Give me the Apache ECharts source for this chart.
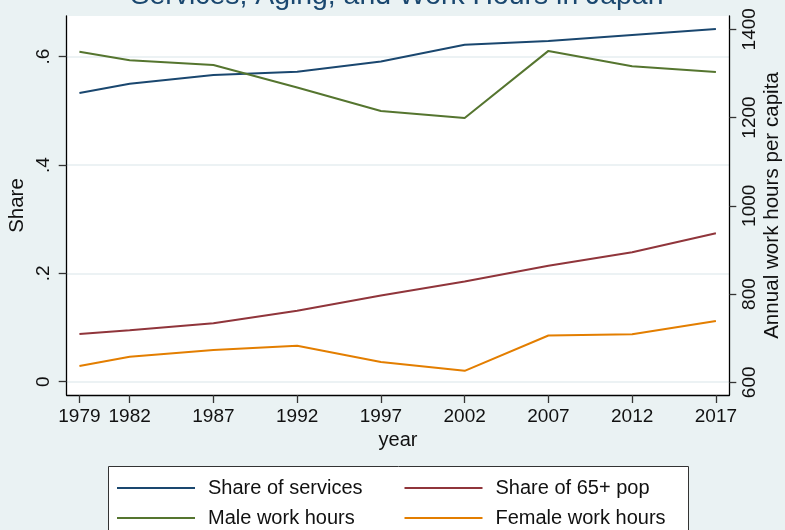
<!DOCTYPE html>
<html>
<head>
<meta charset="utf-8">
<script src="https://cdn.jsdelivr.net/npm/echarts@6/dist/echarts.min.js"></script>
<style>
  html, body { margin: 0; padding: 0; background: #eaf2f3; }
  #chart { width: 785px; height: 530px; }
</style>
</head>
<body>
<div id="chart"></div>
<script>
// Survey years
var years = [1979, 1982, 1987, 1992, 1997, 2002, 2007, 2012, 2017];
// Shares (left axis)
var serviceShare = [0.533, 0.550, 0.566, 0.572, 0.591, 0.622, 0.629, 0.640, 0.651];
var agedShare = [0.088, 0.095, 0.108, 0.131, 0.159, 0.185, 0.214, 0.239, 0.274];
// Annual work hours per capita (right axis)
var maleHours = [1349, 1330, 1319, 1268, 1215, 1199, 1351, 1316, 1303];
var femaleHours = [637, 658, 673, 683, 646, 626, 706, 709, 739];
// Tick values and labels
var shareTicks = [0, 0.2, 0.4, 0.6];
var shareTickLabels = ['0', '.2', '.4', '.6'];
var hourTicks = [600, 800, 1000, 1200, 1400];

var seriesNames = ['Share of services', 'Share of 65+ pop', 'Male work hours', 'Female work hours'];
var colors = ['#1a476f', '#90353b', '#55752f', '#e37e00'];

function pairs(values) {
  return years.map(function (y, i) { return [y, values[i]]; });
}

var FONT = '"Liberation Sans", Arial, sans-serif';

var chart = echarts.init(document.getElementById('chart'), null, { renderer: 'canvas' });

// Two legend columns inside one framed box
var legendCommon = {
  orient: 'vertical',
  top: 478,
  height: 90,
  padding: 0,
  itemWidth: 78,
  itemHeight: 2,
  itemGap: 10,
  icon: 'rect',
  selectedMode: false,
  textStyle: { fontFamily: FONT, fontSize: 20, color: '#111', lineHeight: 20, padding: [0, 0, 0, 8] }
};

chart.setOption({
  backgroundColor: '#eaf2f3',
  color: colors,
  animation: false,
  title: {
    text: 'Services, Aging, and Work Hours in Japan',
    left: 397,
    textAlign: 'center',
    top: -18,
    padding: 0,
    textStyle: { fontFamily: FONT, fontSize: 28.4, fontWeight: 'normal', color: '#1a476f' }
  },
  graphic: [{
    type: 'rect',
    shape: { x: 108.5, y: 466.5, width: 580, height: 90 },
    style: { fill: '#ffffff', stroke: '#333333', lineWidth: 1 },
    z: 0
  }],
  legend: [
    Object.assign({}, legendCommon, { left: 117, data: [seriesNames[0], seriesNames[2]] }),
    Object.assign({}, legendCommon, { left: 404.5, data: [seriesNames[1], seriesNames[3]] })
  ],
  grid: {
    left: 66.7, right: 55.7, top: 16, bottom: 135,
    containLabel: false,
    outerBoundsMode: 'none',
    show: true, backgroundColor: '#ffffff', borderWidth: 0
  },
  xAxis: {
    type: 'value',
    min: 1978.24, max: 2017.8,
    name: 'year',
    nameLocation: 'middle',
    nameGap: 35,
    nameMoveOverlap: false,
    nameTextStyle: { fontFamily: FONT, fontSize: 20, color: '#111' },
    axisLine: { show: true, onZero: false, lineStyle: { color: '#000', width: 1.3 } },
    axisTick: { show: true, length: 8, customValues: years, lineStyle: { color: '#333', width: 1.3 } },
    axisLabel: { customValues: years, margin: 12, fontFamily: FONT, fontSize: 19, color: '#111',
      formatter: function (v) { return String(v); } },
    splitLine: { show: false }
  },
  yAxis: [{
    type: 'value',
    position: 'left',
    min: -0.02455, max: 0.6751,
    name: 'Share',
    nameLocation: 'middle',
    nameRotate: 90,
    nameGap: 38.5,
    nameMoveOverlap: false,
    nameTextStyle: { fontFamily: FONT, fontSize: 20.5, color: '#111' },
    axisLine: { show: true, onZero: false, lineStyle: { color: '#000', width: 1.3 } },
    axisTick: { show: true, length: 8, customValues: shareTicks, lineStyle: { color: '#333', width: 1.3 } },
    axisLabel: { customValues: shareTicks, rotate: 90, margin: 13.5, fontFamily: FONT, fontSize: 19, color: '#111',
      formatter: function (v) {
        var i = shareTicks.findIndex(function (t) { return Math.abs(t - v) < 1e-9; });
        return i >= 0 ? shareTickLabels[i] : '';
      } },
    splitLine: { show: true, lineStyle: { color: '#e6eef1', width: 1.5 } }
  }, {
    type: 'value',
    position: 'right',
    min: 571.2, max: 1430.1,
    name: 'Annual work hours per capita',
    nameLocation: 'middle',
    nameRotate: 90,
    nameGap: 33,
    nameMoveOverlap: false,
    nameTextStyle: { fontFamily: FONT, fontSize: 20.6, color: '#111' },
    axisLine: { show: true, onZero: false, lineStyle: { color: '#000', width: 1.3 } },
    axisTick: { show: true, length: 7, customValues: hourTicks, lineStyle: { color: '#333', width: 1.3 } },
    axisLabel: { customValues: hourTicks, rotate: 90, margin: 11.4, fontFamily: FONT, fontSize: 19, color: '#111',
      formatter: function (v) { return String(v); } },
    splitLine: { show: false }
  }],
  series: [
    { name: seriesNames[0], type: 'line', yAxisIndex: 0, data: pairs(serviceShare) },
    { name: seriesNames[1], type: 'line', yAxisIndex: 0, data: pairs(agedShare) },
    { name: seriesNames[2], type: 'line', yAxisIndex: 1, data: pairs(maleHours) },
    { name: seriesNames[3], type: 'line', yAxisIndex: 1, data: pairs(femaleHours) }
  ].map(function (s, i) {
    s.symbol = 'none';
    s.lineStyle = { width: 2, color: colors[i] };
    s.itemStyle = { color: colors[i] };
    s.z = 3;
    return s;
  })
});
</script>
</body>
</html>
